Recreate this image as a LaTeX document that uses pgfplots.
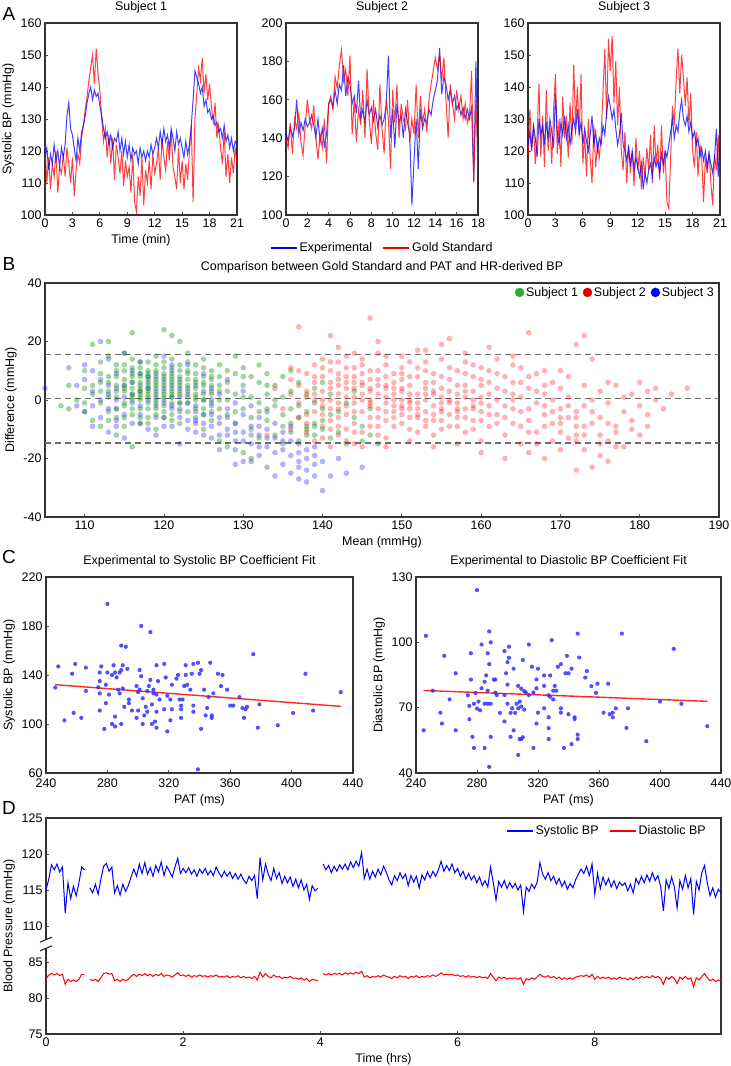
\documentclass[border=0pt]{standalone}
\usepackage{fontspec}
\setmainfont{Liberation Sans}
\usepackage{pgfplots}
\pgfplotsset{compat=1.18}
\definecolor{bl}{RGB}{0,0,255}
\definecolor{rd}{RGB}{255,0,0}
\definecolor{gr}{RGB}{10,140,10}
\definecolor{grleg}{RGB}{50,170,50}
\definecolor{cpt}{RGB}{50,50,255}
\definecolor{dsh}{RGB}{110,110,110}
\newcommand\fs{\fontsize{12.5}{14.5}\selectfont}
\pgfplotsset{
 base/.style={scale only axis, anchor=south west,
  axis line style={line width=1.4bp, black!80},
  tick align=inside, major tick length=3bp,
  tick style={line width=0.8bp, black!70},
  xtick pos=left, ytick pos=left,
  tick label style={font=\fs}, label style={font=\fs}, title style={font=\fs},
  /pgf/number format/assume math mode=true, /pgf/number format/1000 sep={},
  legend style={font=\fs, draw=none, fill=none},
  clip=true},
 tline/.style={line width=1bp, draw opacity=0.75},
 lineleg/.style={legend image code/.code={\draw[##1, line width=2bp, draw opacity=1] (0bp,0bp) -- (26bp,0bp);}},
}
\begin{document}
\begin{tikzpicture}[x=1bp,y=1bp]
\useasboundingbox (0,0) rectangle (731,1066);
\node[font=\fontsize{19}{21}\selectfont] at (9,1052) {A};
\node[font=\fontsize{19}{21}\selectfont] at (9,802) {B};
\node[font=\fontsize{19}{21}\selectfont] at (9,509) {C};
\node[font=\fontsize{19}{21}\selectfont] at (9,258) {D};

% ---------------- A1
\begin{axis}[base, at={(45bp,851bp)}, width=192bp, height=192bp,
 xmin=0, xmax=21, ymin=100, ymax=160, xtick={0,3,...,21}, ytick={100,110,...,160},
 title={Subject 1}, xlabel={Time (min)}, ylabel={Systolic BP (mmHg)}]
\addplot[rd, tline] table[header=false, row sep=\\, x expr=\coordindex*0.2, y index=0] {
122\\110\\118\\108\\116\\112\\120\\107\\115\\113\\119\\
112\\121\\116\\110\\118\\106\\114\\119\\116\\124\\
128\\133\\137\\142\\146\\150\\141\\152\\144\\139\\
130\\123\\127\\118\\125\\116\\124\\111\\122\\118\\
113\\120\\109\\117\\112\\115\\107\\119\\104\\101\\
112\\106\\118\\103\\114\\110\\117\\108\\119\\113\\
116\\121\\111\\124\\118\\114\\123\\117\\126\\115\\
112\\108\\121\\110\\117\\108\\116\\111\\120\\128\\
104\\130\\138\\146\\142\\149\\138\\144\\136\\141\\
134\\129\\135\\124\\128\\121\\116\\126\\112\\119\\
110\\118\\113\\121\\116\\};
\addplot[bl, tline] table[header=false, row sep=\\, x expr=\coordindex*0.2, y index=0] {
118\\121\\114\\119\\116\\122\\117\\120\\115\\121\\118\\
122\\131\\135\\127\\125\\121\\117\\124\\120\\126\\
128\\131\\135\\138\\140\\136\\139\\137\\138\\134\\
131\\127\\124\\126\\122\\125\\121\\124\\123\\126\\
120\\124\\119\\123\\118\\122\\117\\121\\119\\120\\
116\\121\\118\\120\\117\\120\\118\\122\\119\\121\\
124\\121\\126\\122\\127\\123\\125\\121\\127\\124\\
120\\126\\122\\124\\121\\118\\123\\119\\122\\128\\
136\\145\\143\\141\\138\\140\\134\\136\\132\\133\\
130\\131\\128\\129\\126\\127\\124\\128\\123\\125\\
121\\124\\120\\123\\122\\};
\end{axis}

% ---------------- A2
\begin{axis}[base, at={(286bp,851bp)}, width=192bp, height=192bp,
 xmin=0, xmax=18, ymin=100, ymax=200, xtick={0,2,...,18}, ytick={100,120,...,200},
 title={Subject 2}, lineleg,
 legend style={at={(0.5,-0.172)}, anchor=center, legend columns=2,
  /tikz/every even column/.append style={column sep=8bp}}]
\addplot[bl, tline] table[header=false, row sep=\\, x expr=\coordindex*0.2, y index=0] {
143\\138\\146\\141\\145\\160\\142\\148\\144\\150\\146\\
148\\152\\147\\140\\150\\138\\145\\136\\142\\158\\
160\\156\\165\\158\\168\\165\\178\\162\\172\\168\\
158\\162\\153\\170\\150\\155\\148\\160\\152\\156\\
149\\155\\146\\152\\147\\150\\158\\183\\140\\155\\
135\\158\\148\\152\\140\\155\\148\\142\\105\\128\\
150\\124\\155\\145\\150\\148\\155\\152\\160\\165\\
170\\187\\163\\172\\168\\160\\165\\158\\162\\155\\
158\\152\\156\\150\\155\\150\\156\\118\\180\\128\\};
\addlegendentry{Experimental}
\addplot[rd, tline] table[header=false, row sep=\\, x expr=\coordindex*0.2, y index=0] {
140\\135\\148\\132\\150\\145\\153\\138\\131\\147\\160\\
150\\145\\157\\140\\129\\142\\135\\150\\127\\158\\
162\\155\\172\\166\\178\\186\\170\\176\\162\\183\\
142\\160\\138\\155\\147\\165\\140\\176\\150\\137\\
160\\143\\134\\168\\145\\132\\160\\150\\124\\165\\
148\\168\\140\\158\\150\\145\\160\\138\\150\\142\\
168\\140\\162\\148\\155\\143\\160\\168\\175\\182\\
176\\184\\170\\182\\160\\140\\168\\158\\150\\165\\
155\\162\\150\\158\\148\\152\\175\\117\\160\\124\\};
\addlegendentry{Gold Standard}
\end{axis}

% ---------------- A3
\begin{axis}[base, at={(528bp,851bp)}, width=192bp, height=192bp,
 xmin=0, xmax=21, ymin=100, ymax=160, xtick={0,3,...,21}, ytick={100,110,...,160},
 title={Subject 3}]
\addplot[rd, tline] table[header=false, row sep=\\, x expr=\coordindex*0.2, y index=0] {
118\\133\\121\\128\\116\\125\\141\\118\\131\\115\\139\\
120\\128\\116\\133\\144\\119\\130\\115\\137\\124\\
131\\118\\135\\122\\147\\128\\140\\125\\144\\116\\
125\\112\\130\\118\\110\\128\\115\\122\\118\\125\\
138\\152\\130\\155\\145\\156\\135\\148\\128\\140\\
120\\114\\126\\110\\122\\113\\120\\109\\124\\114\\
120\\108\\118\\112\\121\\114\\125\\110\\128\\116\\
122\\111\\128\\113\\120\\104\\102\\118\\134\\128\\
142\\152\\138\\150\\143\\134\\143\\128\\138\\120\\
115\\126\\112\\122\\118\\104\\118\\113\\120\\110\\
103\\119\\114\\125\\108\\};
\addplot[bl, tline] table[header=false, row sep=\\, x expr=\coordindex*0.2, y index=0] {
122\\126\\120\\128\\124\\118\\130\\125\\128\\122\\129\\
124\\130\\126\\121\\138\\126\\122\\129\\125\\131\\
124\\128\\122\\127\\130\\126\\133\\125\\129\\122\\
127\\123\\120\\125\\131\\122\\126\\120\\124\\122\\
128\\125\\132\\137\\134\\130\\133\\127\\122\\125\\
132\\122\\120\\117\\121\\116\\120\\114\\118\\115\\
112\\116\\108\\113\\110\\114\\116\\112\\118\\115\\
117\\113\\119\\116\\120\\118\\122\\126\\130\\124\\
128\\126\\132\\136\\130\\128\\131\\126\\129\\124\\
126\\122\\124\\118\\121\\117\\120\\115\\119\\116\\
113\\118\\127\\112\\122\\};
\end{axis}

% ---------------- B
\begin{axis}[base, at={(45bp,549bp)}, width=674bp, height=234bp,
 xmin=105, xmax=190, ymin=-40, ymax=40, xtick={110,120,...,190}, ytick={-40,-20,0,20,40},
 title={Comparison between Gold Standard and PAT and HR-derived BP},
 xlabel={Mean (mmHg)}, ylabel={Difference (mmHg)},
 legend style={at={(1,1)}, anchor=north east, legend columns=3,
  /tikz/every even column/.append style={column sep=3bp}}]
\addlegendimage{only marks, mark=*, mark size=4.5bp, grleg}
\addlegendentry{Subject 1}
\addlegendimage{only marks, mark=*, mark size=4.5bp, rd!90!black}
\addlegendentry{Subject 2}
\addlegendimage{only marks, mark=*, mark size=4.5bp, bl}
\addlegendentry{Subject 3}
\addplot[forget plot, only marks, mark=*, mark size=2.8bp, bl, mark options={draw opacity=0, fill opacity=0.3}] table[header=false, row sep=\\] {
105 4\\108 11\\109 -2\\110 -4\\110 12\\111 3\\111 -9\\112 20\\112 7\\112 -6\\113 2\\113 -11\\113 14\\114 -3\\114 9\\114 -7\\
115 5\\115 -13\\115 16\\116 -1\\116 10\\116 -8\\117 3\\117 -5\\117 13\\118 -10\\118 6\\118 0\\119 -2\\119 8\\119 -12\\
120 4\\120 -6\\120 15\\121 1\\121 -9\\121 10\\122 -3\\122 7\\122 -15\\123 2\\123 -7\\123 12\\124 -4\\124 5\\124 -11\\
125 0\\125 -8\\125 9\\126 -2\\126 -13\\126 4\\127 -6\\127 -17\\127 2\\128 -10\\128 -3\\128 7\\129 -8\\129 -14\\129 -1\\
129 -22\\130 -5\\130 -11\\130 -21\\130 3\\131 -9\\131 -15\\131 -2\\131 -21\\132 -12\\132 -6\\132 -19\\133 -10\\133 -16\\
133 -23\\133 -4\\134 -13\\134 -8\\134 -26\\135 -11\\135 -17\\135 -22\\136 -14\\136 -25\\136 -9\\137 -21\\137 -27\\137 -18\\
137 -15\\138 -24\\138 -20\\138 -28\\139 -19\\139 -26\\139 -16\\140 -31\\140 -21\\141 -26\\142 -20\\143 -25\\145 -23\\
116 2\\118 4\\120 -1\\122 1\\124 -2\\119 3\\121 5\\123 -1\\125 3\\126 -5\\127 -8\\128 -12\\117 -2\\119 1\\121 -3\\123 4\\
115 1\\113 5\\111 -2\\114 0\\120 7\\122 -6\\124 -7\\126 0\\
112 0\\113 -3\\114 4\\115 -5\\116 6\\117 -8\\118 8\\119 -6\\120 -9\\121 -2\\122 4\\123 -10\\124 -8\\125 -5\\126 -9\\
127 -12\\128 -6\\129 -11\\130 -14\\131 -12\\132 -16\\133 -13\\134 -18\\135 -14\\136 -19\\137 -23\\138 -17\\139 -22\\
110 7\\111 10\\109 5\\114 -9\\117 9\\121 12\\125 -12\\129 -17\\132 -9\\};
\addplot[forget plot, only marks, mark=*, mark size=2.8bp, gr, mark options={draw opacity=0, fill opacity=0.38}] table[header=false, row sep=\\] {
107 -2\\108 -3\\108 5\\109 0\\110 4\\110 -4\\110 10\\111 19\\111 2\\111 -7\\112 6\\112 -1\\112 13\\112 -9\\113 20\\113 3\\
113 8\\113 -4\\113 15\\114 -12\\114 5\\114 1\\114 10\\114 -6\\115 7\\115 -2\\115 12\\115 4\\115 -9\\115 16\\116 23\\
116 -16\\116 6\\116 2\\116 -5\\116 9\\116 14\\117 0\\117 8\\117 -3\\117 11\\117 5\\117 -8\\117 3\\118 7\\118 -1\\118 13\\
118 4\\118 -6\\118 10\\118 1\\119 6\\119 -3\\119 9\\119 2\\119 15\\119 -10\\119 5\\120 24\\120 3\\120 8\\120 -2\\120 11\\
120 0\\120 6\\121 22\\121 4\\121 -5\\121 9\\121 1\\121 14\\121 7\\122 20\\122 2\\122 -4\\122 10\\122 5\\122 -8\\123 3\\
123 13\\123 -1\\123 7\\123 16\\124 0\\124 9\\124 -6\\124 4\\124 12\\125 2\\125 -3\\125 8\\125 -10\\125 14\\126 5\\126 -1\\
126 10\\126 -7\\127 3\\127 -14\\127 8\\127 12\\128 0\\128 -5\\128 6\\128 -16\\129 2\\129 15\\129 -8\\129 9\\130 -3\\
130 5\\130 -18\\130 11\\131 -20\\131 1\\131 -10\\131 8\\132 -4\\132 6\\132 -13\\132 12\\133 -7\\133 2\\133 9\\134 -2\\
134 -12\\134 5\\135 -5\\135 8\\135 -15\\135 1\\136 -8\\136 3\\136 10\\136 -11\\137 -2\\137 -14\\137 6\\137 -6\\138 -9\\
138 -10\\138 -4\\138 2\\139 -9\\139 -12\\139 -8\\139 4\\139 -1\\140 -10\\140 -7\\140 -3\\140 6\\141 -5\\141 -13\\141 2\\
142 -4\\142 -11\\143 -1\\143 -15\\144 -6\\144 3\\145 -14\\145 -9\\146 -12\\146 -3\\147 -15\\
115 3\\116 4\\117 6\\118 2\\119 4\\120 5\\121 3\\122 6\\119 7\\118 5\\117 2\\120 1\\116 8\\123 5\\121 6\\
114 3\\115 5\\116 0\\117 4\\118 8\\119 0\\120 2\\121 8\\122 3\\123 1\\124 6\\125 5\\126 3\\113 1\\112 3\\
117 9\\118 -3\\119 -5\\120 -4\\121 -1\\122 -1\\124 2\\125 0\\126 7\\127 5\\
113 6\\114 8\\115 -1\\116 11\\117 -6\\118 9\\119 12\\120 -6\\121 11\\122 12\\123 9\\124 -3\\125 6\\126 -4\\127 0\\
114 -3\\115 10\\116 -3\\117 13\\118 -8\\119 10\\120 13\\121 -7\\122 -1\\123 -4\\124 7\\125 11\\126 8\\112 9\\111 5\\
110 -1\\113 -7\\114 12\\115 -6\\116 1\\117 1\\118 3\\119 -1\\120 9\\121 2\\122 8\\123 10\\124 1\\125 -5\\126 2\\
127 -3\\128 3\\129 -4\\130 1\\131 -6\\132 -1\\133 -3\\134 0\\135 -9\\128 10\\130 8\\133 5\\136 -3\\138 -12\\};
\addplot[forget plot, only marks, mark=*, mark size=2.8bp, rd, mark options={draw opacity=0, fill opacity=0.3}] table[header=false, row sep=\\] {
133 -12\\134 4\\135 -3\\136 7\\136 -10\\136 11\\137 25\\137 5\\137 -6\\138 1\\138 9\\138 -11\\139 -4\\139 12\\139 6\\
140 -2\\140 8\\140 -13\\140 3\\141 22\\141 -7\\141 10\\141 0\\142 5\\142 -3\\142 13\\142 -9\\143 1\\143 8\\143 -5\\
143 15\\143 -14\\144 4\\144 -1\\144 11\\144 -8\\144 6\\145 -4\\145 9\\145 2\\145 -11\\145 14\\146 28\\146 0\\146 7\\
146 -6\\146 3\\146 -2\\147 10\\147 -9\\147 5\\147 -3\\147 16\\148 1\\148 -7\\148 8\\148 -1\\148 12\\148 -13\\149 4\\
149 -4\\149 9\\149 -2\\149 6\\150 0\\150 -8\\150 11\\150 3\\150 -5\\150 7\\151 -1\\151 13\\151 -10\\151 5\\151 -3\\
152 8\\152 -6\\152 2\\152 17\\152 -1\\153 4\\153 -9\\153 10\\153 -4\\153 0\\154 6\\154 -12\\154 -2\\154 9\\155 1\\
155 -7\\155 14\\155 -3\\155 4\\156 21\\156 -5\\156 7\\156 -1\\157 10\\157 -9\\157 2\\157 -6\\158 5\\158 -3\\158 13\\
158 -11\\159 0\\159 8\\159 -7\\159 3\\160 -4\\160 11\\160 -14\\160 1\\161 6\\161 -2\\161 -9\\162 9\\162 -5\\162 0\\
163 3\\163 -12\\163 8\\163 -20\\164 -3\\164 6\\164 -8\\165 1\\165 -15\\165 11\\165 -4\\166 23\\166 -7\\166 -18\\166 4\\
167 -1\\167 9\\167 -11\\168 5\\168 -5\\168 -20\\168 10\\169 -8\\169 0\\169 -14\\170 -3\\170 -11\\170 4\\170 -17\\
171 -6\\171 1\\171 -13\\172 -24\\172 -9\\172 -4\\172 19\\173 -12\\173 -2\\173 22\\173 -17\\174 -8\\174 -23\\174 14\\
175 -6\\175 -19\\175 3\\176 -14\\176 -1\\176 -21\\177 -9\\177 5\\177 -11\\178 -4\\178 -16\\179 2\\179 -7\\180 -12\\
180 -2\\181 -5\\181 3\\182 0\\182 4\\183 -3\\186 4\\138 -8\\139 -14\\141 -16\\142 -12\\143 -10\\144 -15\\145 -16\\
140 -5\\137 -1\\136 2\\141 4\\142 7\\143 -2\\144 1\\145 5\\146 -9\\147 2\\148 4\\149 0\\150 -2\\151 2\\152 -3\\153 6\\
154 2\\155 -1\\156 3\\157 -3\\158 1\\159 -3\\160 5\\161 2\\162 -8\\164 0\\166 -3\\168 -9\\170 -6\\172 -12\\
139 2\\140 0\\141 -3\\142 2\\143 4\\144 -4\\145 0\\146 -1\\147 7\\148 -4\\149 2\\150 -3\\151 8\\152 -5\\153 -7\\154 3\\
155 -4\\156 0\\157 5\\158 -6\\159 -2\\160 7\\140 11\\141 6\\142 -6\\143 11\\144 8\\145 6\\146 10\\147 -6\\148 5\\
149 -9\\150 4\\151 -6\\152 11\\153 2\\154 -7\\155 8\\156 -9\\157 -4\\158 9\\159 -10\\160 -7\\161 10\\162 4\\163 -2\\
164 12\\165 -9\\166 8\\167 3\\168 -2\\169 6\\170 -8\\171 8\\172 -14\\173 5\\174 -4\\175 -12\\176 6\\177 -16\\178 1\\
179 -10\\180 6\\181 -9\\184 2\\138 3\\139 8\\140 -9\\141 13\\142 -1\\143 6\\144 -11\\145 12\\146 4\\147 -12\\148 15\\
149 -6\\150 9\\151 0\\152 -11\\153 13\\154 -5\\155 -10\\156 11\\157 -1\\158 3\\159 12\\160 -1\\161 -5\\162 14\\
163 -6\\164 2\\165 6\\166 -11\\167 -15\\168 2\\169 -4\\170 10\\171 -2\\172 -6\\173 -9\\174 0\\175 -15\\176 -8\\
142 18\\144 16\\147 20\\150 15\\153 17\\155 19\\158 16\\161 18\\164 15\\148 -16\\151 -14\\154 -16\\157 -15\\160 -18\\
137 10\\138 -5\\139 0\\140 14\\141 -10\\142 9\\};
\addplot[forget plot, dsh, dashed, line width=1.3bp, dash pattern=on 6bp off 4bp] coordinates {(105,15.6) (190,15.6)};
\addplot[forget plot, dsh, dashed, line width=1.3bp, dash pattern=on 6bp off 4bp] coordinates {(105,0.5) (190,0.5)};
\addplot[forget plot, dsh, dashed, line width=1.3bp, dash pattern=on 6bp off 4bp] coordinates {(105,-14.7) (190,-14.7)};
\end{axis}

% ---------------- C1
\begin{axis}[base, at={(46bp,293bp)}, width=307bp, height=196bp,
 xmin=240, xmax=440, ymin=60, ymax=220, xtick={240,280,...,440}, ytick={60,100,...,220},
 xticklabel style={yshift=-2.5bp},
 title={Experimental to Systolic BP Coefficient Fit}, xlabel={PAT (ms)}, ylabel={Systolic BP (mmHg)}]
\addplot[only marks, mark=*, mark size=2.1bp, cpt, mark options={draw opacity=0, fill opacity=0.85}] table[header=false, row sep=\\] {
246 129.7\\248 147\\252 103\\257 141\\258 109\\259 149\\263 105\\266 146\\266 127\\274 130\\275 111\\275 142\\275 125\\
275 135\\276 147\\278 96\\279 117\\279 132\\280 198\\280 142\\281 124\\283 140\\283 100\\284 148\\285 98\\285 106\\
285 142\\286 138\\287 128\\288 125\\288 142\\289 100\\289 164\\289 144\\290 148\\290 129\\291 114\\292 163\\293 145\\
294 117\\294 120\\296 111\\299 105\\299 131\\300 111\\300 126\\301 144\\301 128\\302 139\\302 180\\303 100\\303 121\\
304 107\\305 114\\306 127\\306 110\\307 131\\308 175\\308 136\\309 116\\309 100\\310 125\\310 128\\311 102\\312 148\\
312 124\\312 97\\312 110\\313 135\\314 120\\317 149\\317 112\\318 138\\319 94\\319 123\\321 120\\321 103\\322 132\\
322 112\\325 137\\326 140\\327 120\\328 105\\328 112\\328 115\\329 120\\330 131\\331 148\\331 140\\332 132\\334 128\\
335 141\\336 149\\336 115\\336 110\\339 63\\339 150\\340 141\\341 144\\341 96\\343 128\\344 107\\345 113\\346 122\\
347 150\\348 105\\348 107\\349 125\\352 141\\354 131\\355 140\\358 128\\360 115\\362 115\\366 122\\368 113\\369 105\\
370 112\\371 114\\375 157\\378 97\\379 116\\391 99\\401 109\\409 141\\414 111\\432 126\\};
\addplot[rd, line width=1.4bp, draw opacity=0.85] coordinates {(246,132.1) (432,114.4)};
\end{axis}

% ---------------- C2
\begin{axis}[base, at={(416bp,293bp)}, width=305bp, height=196bp,
 xmin=240, xmax=440, ymin=40, ymax=130, xtick={240,280,...,440}, ytick={40,70,100,130},
 xticklabel style={yshift=-2.5bp},
 title={Experimental to Diastolic BP Coefficient Fit}, xlabel={PAT (ms)}, ylabel={Diastolic BP (mmHg)}]
\addplot[only marks, mark=*, mark size=2.1bp, cpt, mark options={draw opacity=0, fill opacity=0.85}] table[header=false, row sep=\\] {
245 59.6\\246.5 103\\251 77.8\\256 67.7\\257 62.7\\258.5 93.8\\262 73.8\\266 59.6\\266 85.8\\274 75.7\\275 64.7\\
275 70.8\\276 82.9\\276 95\\277 56.6\\278 51.5\\278 71.8\\279 76.7\\280 69.6\\280 124\\281 72.8\\282 68.8\\283 78.9\\
283 99\\285 81.9\\285 71.8\\285 51.5\\286 84.8\\287 77.8\\287 95\\287 71.8\\288 105\\288 90\\288 42.8\\289 100\\
289 71.8\\289 56.6\\291 82.9\\292 82.9\\292 76.9\\293 75.8\\295 67.6\\298 75.8\\298 96\\298 63.7\\299 85.8\\300 71.8\\
300 90.9\\300 80.6\\301 92.9\\301 98\\302 67.6\\302 56.6\\303 69.7\\304 87.9\\304 59.6\\305 67.6\\306 71.8\\307 80\\
307 69.7\\308 72.8\\308 55.6\\307 48.3\\309 55.6\\309 70.5\\309 78.7\\310 56.4\\310 91.9\\311 69.1\\311 77.6\\312 77\\
314 75.8\\314 99\\316 88.8\\317 51.5\\317 77\\319 78.9\\319 62.7\\319 83\\320 87.9\\320 67.7\\324 84.8\\324 80\\
324 69.7\\327 60.6\\327 65.6\\327 75.7\\327 55.6\\328 84.8\\328 75\\329 101\\330 77.8\\330 73.8\\331 80\\332 77.8\\
333 88.8\\335 90\\335 67.7\\335 69.7\\337 51.5\\338 85.8\\339 93.8\\340 67\\340 85.8\\342 87.9\\342 53.3\\344 64.8\\
344 65.6\\346 104\\346 55.6\\346 57.6\\347 93\\351 83.8\\352 86.8\\355 79.9\\358 76.8\\359 81\\363 67.7\\366 81\\
367 67\\369 65.6\\369 67.7\\371 69.7\\375 104\\378 60.7\\379 69.7\\391 54.6\\400 72.8\\409 97\\414 71.8\\431 61.5\\};
\addplot[rd, line width=1.4bp, draw opacity=0.85] coordinates {(245,77.9) (431,72.9)};
\end{axis}

% ---------------- D
\begin{axis}[base, at={(46bp,32bp)}, width=675bp, height=216bp,
 xmin=0, xmax=9.84, ymin=75, ymax=105, xtick={0,2,4,6,8},
 ytick={75,80,85,90,95,100,105}, yticklabels={75,80,85,110,115,120,125},
 xlabel={Time (hrs)}, ylabel={Blood Pressure (mmHg)}, unbounded coords=jump, lineleg,
 legend style={at={(0.985,0.985)}, anchor=north east, legend columns=2,
  /tikz/every even column/.append style={column sep=8bp}}]
\addplot[bl, line width=1bp] table[header=false, row sep=\\, x expr=\coordindex*0.04, y expr=\thisrowno{0}-20] {
115.0\\116.5\\118.5\\117.8\\118.6\\117.5\\118.2\\111.8\\116.0\\113.8\\115.5\\114.2\\116.0\\118.2\\117.8\\nan\\
115.3\\114.6\\115.8\\114.4\\116.5\\118.3\\118.7\\117.6\\118.2\\114.6\\115.6\\114.3\\115.8\\114.8\\115.6\\
116.8\\117.9\\116.9\\118.6\\117.3\\118.8\\117.2\\118.1\\116.9\\118.4\\117.5\\118.9\\117.0\\118.3\\117.6\\116.8\\118.2\\119.4\\117.3\\118.0\\
117.4\\118.1\\117.2\\117.8\\116.9\\117.9\\117.3\\118.0\\117.1\\117.7\\117.0\\118.2\\117.4\\116.8\\117.6\\116.9\\117.5\\116.6\\117.3\\116.5\\117.2\\116.4\\115.9\\116.9\\116.3\\
117.0\\113.8\\119.5\\116.4\\118.6\\117.2\\116.3\\118.0\\116.6\\117.4\\115.9\\116.9\\116.0\\116.8\\115.5\\116.5\\115.3\\116.4\\115.0\\115.8\\113.7\\115.6\\114.9\\115.2\\nan\\
118.6\\117.8\\118.4\\117.4\\118.3\\117.6\\118.5\\117.9\\118.6\\117.8\\118.9\\118.1\\119.0\\118.3\\120.2\\116.6\\117.9\\116.5\\117.6\\116.8\\117.9\\117.1\\118.3\\117.5\\
116.4\\115.7\\117.0\\116.3\\117.4\\116.6\\117.2\\115.6\\117.0\\116.1\\116.9\\115.3\\117.1\\116.4\\117.5\\116.7\\117.6\\116.9\\117.8\\119.0\\117.6\\118.4\\117.7\\118.6\\117.4\\118.0\\
116.9\\117.6\\116.5\\117.3\\116.4\\117.0\\116.0\\116.8\\115.6\\116.3\\115.4\\118.2\\116.0\\113.6\\116.2\\115.4\\116.3\\115.2\\116.0\\115.3\\115.9\\115.0\\115.7\\112.0\\115.4\\
114.8\\115.8\\115.2\\116.1\\118.8\\117.2\\116.5\\117.4\\116.3\\116.9\\115.8\\116.6\\115.5\\116.2\\115.1\\115.9\\115.3\\116.4\\117.2\\117.9\\117.3\\118.3\\117.0\\118.6\\114.4\\
117.3\\115.2\\116.8\\115.7\\116.6\\115.4\\116.3\\115.2\\116.1\\115.6\\116.0\\114.9\\115.8\\114.6\\116.6\\115.8\\116.9\\116.0\\117.1\\116.2\\117.4\\116.3\\117.0\\115.5\\112.1\\
116.4\\115.2\\116.8\\115.4\\112.5\\116.3\\115.1\\117.0\\115.3\\116.6\\111.6\\116.2\\115.0\\117.4\\118.4\\116.0\\114.2\\115.3\\114.0\\115.1\\114.6\\};
\addlegendentry{Systolic BP}
\addplot[rd, line width=1bp] table[header=false, row sep=\\, x expr=\coordindex*0.04, y index=0] {
82.6\\83.2\\83.4\\83.2\\83.4\\83.1\\83.3\\81.9\\82.6\\82.3\\82.5\\82.3\\82.6\\83.3\\83.2\\nan\\
82.6\\82.4\\82.6\\82.3\\82.8\\83.4\\83.5\\83.3\\83.4\\82.4\\82.6\\82.3\\82.6\\82.4\\82.6\\
83.0\\83.3\\83.0\\83.3\\83.1\\83.4\\83.1\\83.3\\83.0\\83.3\\83.1\\83.4\\83.0\\83.2\\83.1\\82.9\\83.2\\83.5\\83.1\\83.2\\
83.0\\83.2\\82.9\\83.1\\83.0\\83.2\\83.0\\83.1\\82.9\\83.1\\83.0\\83.2\\82.9\\83.0\\82.9\\83.1\\82.8\\83.0\\82.9\\83.1\\82.8\\83.0\\82.8\\82.9\\82.7\\
83.0\\82.5\\83.6\\82.9\\83.4\\83.0\\82.8\\83.2\\82.9\\83.0\\82.7\\82.9\\82.8\\83.0\\82.7\\82.8\\82.6\\82.8\\82.5\\82.7\\82.3\\82.6\\82.5\\82.4\\nan\\
83.4\\83.2\\83.4\\83.2\\83.4\\83.3\\83.4\\83.2\\83.5\\83.3\\83.5\\83.3\\83.6\\83.4\\83.7\\82.9\\83.1\\82.8\\83.0\\82.9\\83.1\\82.9\\83.2\\83.0\\
82.9\\82.7\\83.0\\82.8\\83.1\\82.9\\83.0\\82.7\\83.0\\82.9\\83.1\\82.8\\83.0\\82.9\\83.1\\83.0\\83.2\\83.0\\83.2\\83.5\\83.2\\83.3\\83.2\\83.3\\83.1\\83.2\\
83.0\\83.1\\82.9\\83.1\\82.9\\83.0\\82.8\\83.0\\82.8\\82.9\\82.7\\83.4\\82.9\\82.4\\82.9\\82.7\\82.9\\82.6\\82.8\\82.7\\82.8\\82.6\\82.8\\81.9\\82.7\\
82.5\\82.8\\82.6\\82.9\\83.3\\83.0\\82.9\\83.1\\82.8\\83.0\\82.7\\82.9\\82.6\\82.8\\82.6\\82.8\\82.6\\82.9\\83.0\\83.1\\83.0\\83.2\\82.9\\83.3\\82.6\\
83.0\\82.7\\82.9\\82.7\\82.9\\82.6\\82.8\\82.6\\82.9\\82.7\\82.8\\82.5\\82.8\\82.5\\82.9\\82.7\\83.0\\82.8\\83.0\\82.8\\83.1\\82.8\\83.0\\82.7\\81.9\\
82.9\\82.6\\83.0\\82.7\\82.0\\82.9\\82.6\\83.0\\82.6\\82.8\\81.6\\82.8\\82.5\\83.0\\83.4\\82.8\\82.4\\82.6\\82.3\\82.5\\82.4\\};
\addlegendentry{Diastolic BP}
\end{axis}
\begin{axis}[scale only axis, anchor=south west, at={(46bp,32bp)}, width=675bp, height=216bp,
 xmin=0, xmax=9.84, ymin=75, ymax=105, hide axis, clip=false]
\fill[white] ([xshift=-4bp]axis cs:0,86.9) rectangle ([xshift=4bp]axis cs:0,88.1);
\draw[line width=1.1bp, black!85] ([xshift=-6bp,yshift=-2.5bp]axis cs:0,86.9) -- ([xshift=6bp,yshift=2.5bp]axis cs:0,86.9);
\draw[line width=1.1bp, black!85] ([xshift=-6bp,yshift=-2.5bp]axis cs:0,88.1) -- ([xshift=6bp,yshift=2.5bp]axis cs:0,88.1);
\end{axis}
\end{tikzpicture}
\end{document}
